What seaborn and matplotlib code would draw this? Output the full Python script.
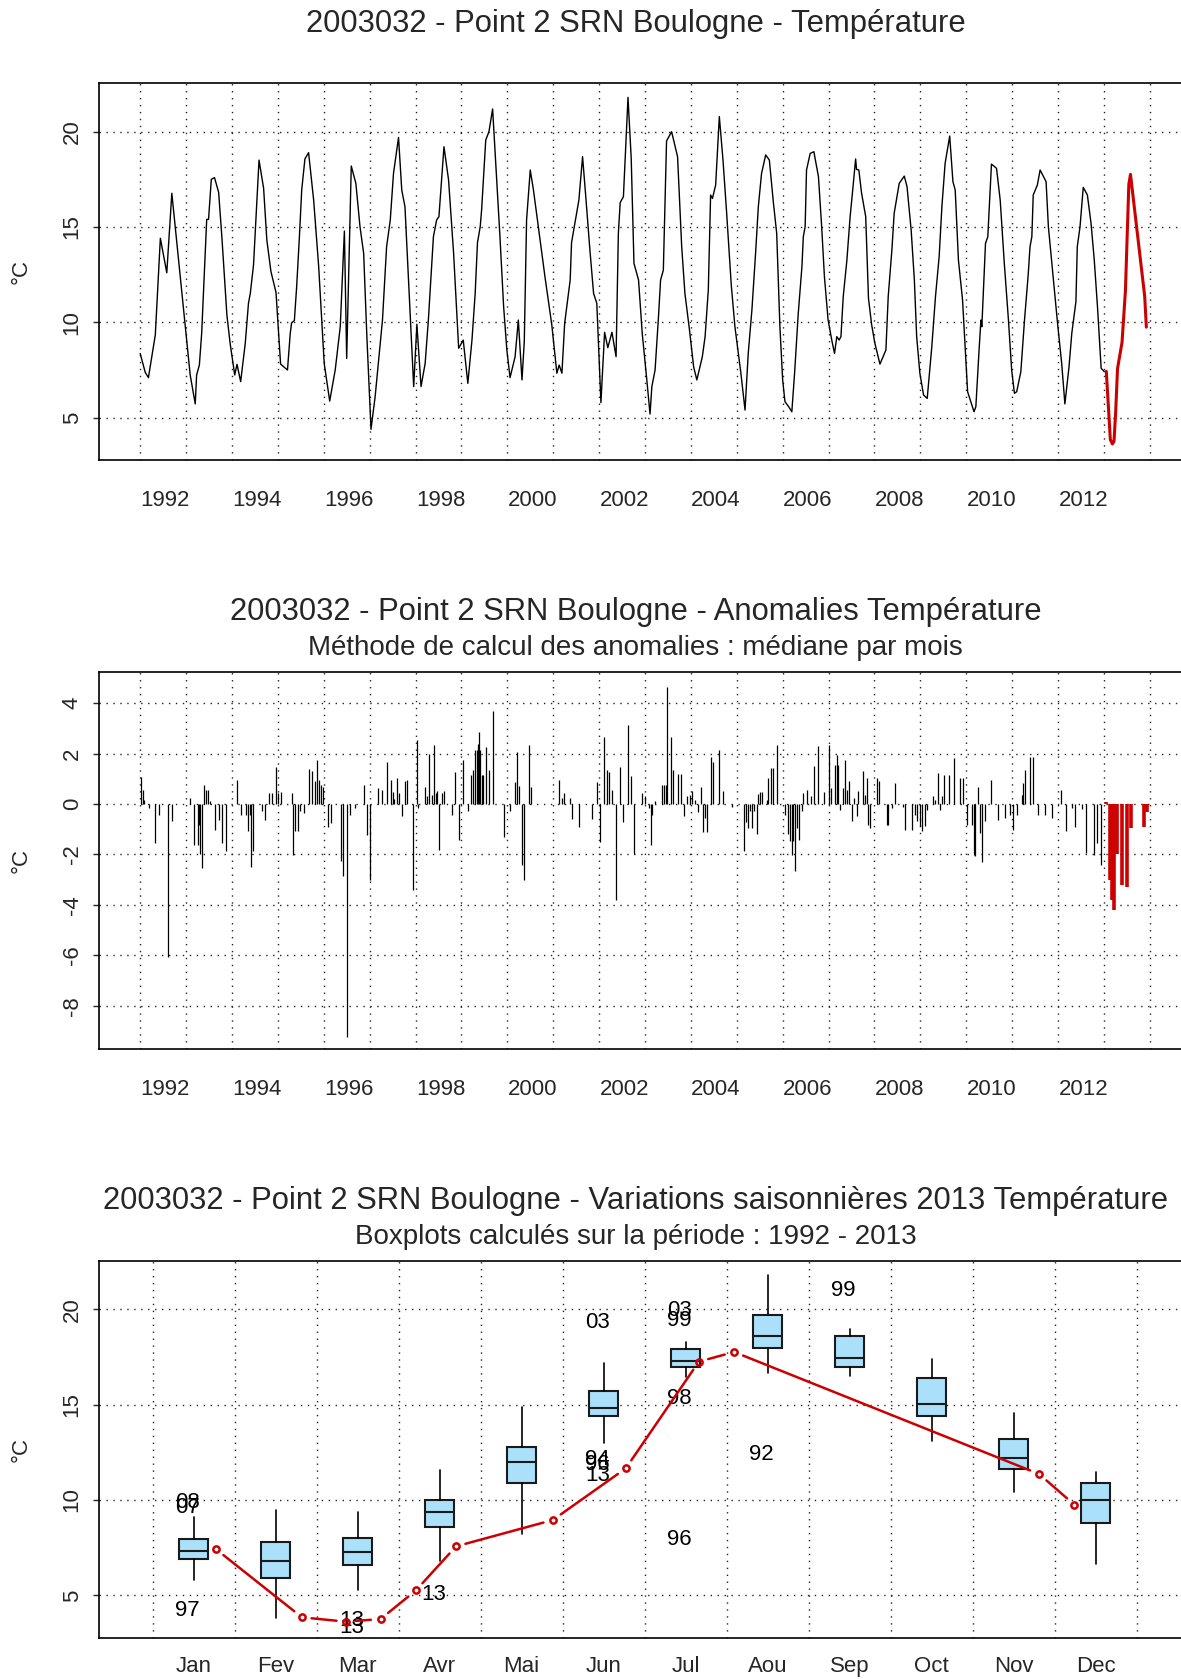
import matplotlib
matplotlib.use("Agg")
import matplotlib.pyplot as plt
import seaborn as sns

STATION = "2003032 - Point 2 SRN Boulogne"
RED = "#cc0000"
BOX_BLUE = "#aae0fa"

# monthly-ish surface temperature 1992-2012 (decimal year, degC)
temp_time = [
    1992.00, 1992.11, 1992.18, 1992.33, 1992.44, 1992.58, 1992.69, 1992.80, 1992.98,
    1993.09, 1993.20, 1993.23, 1993.29, 1993.34, 1993.45, 1993.49, 1993.55, 1993.62, 1993.71, 1993.78, 1993.89, 1993.96,
    1994.06, 1994.11, 1994.19, 1994.29, 1994.36, 1994.40, 1994.47, 1994.59, 1994.69, 1994.76, 1994.85, 1994.96,
    1995.01, 1995.06, 1995.21, 1995.27, 1995.30, 1995.36, 1995.41, 1995.47, 1995.52, 1995.59, 1995.67, 1995.78, 1995.89,
    1996.01, 1996.13, 1996.25, 1996.36, 1996.45, 1996.50, 1996.60, 1996.70, 1996.79, 1996.87, 1996.94,
    1997.03, 1997.12, 1997.19, 1997.28, 1997.37, 1997.45, 1997.52, 1997.63, 1997.70, 1997.77, 1997.88, 1997.96,
    1998.03, 1998.12, 1998.21, 1998.28, 1998.39, 1998.46, 1998.51, 1998.62, 1998.72, 1998.83, 1998.94,
    1999.04, 1999.14, 1999.23, 1999.30, 1999.35, 1999.41, 1999.44, 1999.53, 1999.60, 1999.68, 1999.77, 1999.84, 1999.92, 1999.99,
    2000.06, 2000.17, 2000.24, 2000.32, 2000.37, 2000.42, 2000.50, 2000.57, 2000.68, 2000.82, 2000.97,
    2001.08, 2001.13, 2001.19, 2001.25, 2001.37, 2001.40, 2001.46, 2001.56, 2001.64, 2001.71, 2001.80, 2001.88, 2001.95,
    2002.04, 2002.12, 2002.19, 2002.28, 2002.37, 2002.42, 2002.46, 2002.53, 2002.63, 2002.70, 2002.76, 2002.86, 2002.94,
    2003.04, 2003.11, 2003.15, 2003.22, 2003.29, 2003.34, 2003.40, 2003.47, 2003.58, 2003.71, 2003.80, 2003.87, 2003.97,
    2004.06, 2004.13, 2004.25, 2004.31, 2004.38, 2004.43, 2004.47, 2004.54, 2004.62, 2004.70, 2004.78, 2004.88, 2004.96,
    2005.09, 2005.18, 2005.25, 2005.33, 2005.41, 2005.47, 2005.54, 2005.63, 2005.71, 2005.80, 2005.87, 2005.94,
    2006.00, 2006.05, 2006.13, 2006.20, 2006.26, 2006.34, 2006.42, 2006.45, 2006.49, 2006.52, 2006.60, 2006.68, 2006.78, 2006.85, 2006.91, 2006.99,
    2007.07, 2007.13, 2007.18, 2007.23, 2007.27, 2007.32, 2007.40, 2007.47, 2007.52, 2007.59, 2007.61, 2007.66, 2007.72, 2007.81, 2007.87, 2007.94,
    2008.01, 2008.12, 2008.25, 2008.30, 2008.38, 2008.43, 2008.54, 2008.65, 2008.71, 2008.80, 2008.87, 2008.92, 2008.99,
    2009.07, 2009.15, 2009.25, 2009.33, 2009.41, 2009.47, 2009.54, 2009.64, 2009.71, 2009.76, 2009.83, 2009.92,
    2010.03, 2010.10, 2010.17, 2010.21, 2010.28, 2010.32, 2010.34, 2010.42, 2010.47, 2010.55, 2010.66, 2010.74, 2010.83, 2010.92, 2010.99,
    2011.05, 2011.10, 2011.19, 2011.27, 2011.35, 2011.39, 2011.43, 2011.46, 2011.55, 2011.61, 2011.74, 2011.79, 2011.90, 2011.99,
    2012.08, 2012.15, 2012.24, 2012.30, 2012.39, 2012.42, 2012.48, 2012.55, 2012.64, 2012.72, 2012.79, 2012.86, 2012.94, 2013.01,
]
temp_value = [
    8.37, 7.38, 7.10, 9.34, 14.41, 12.60, 16.77, 14.14, 9.86,
    7.24, 5.72, 7.24, 7.76, 9.42, 15.40, 15.40, 17.50, 17.59, 16.82, 14.49, 10.38, 8.90,
    7.24, 7.80, 6.89, 8.90, 11.00, 11.52, 13.01, 18.51, 17.03, 14.32, 12.66, 11.57,
    9.69, 7.81, 7.50, 9.42, 9.98, 10.09, 11.87, 14.49, 16.94, 18.57, 18.90, 16.42, 12.92,
    7.85, 5.87, 7.50, 9.77, 14.79, 8.11, 18.20, 17.29, 15.02, 13.62, 9.25,
    4.39, 6.10, 7.85, 10.12, 13.97, 15.37, 17.81, 19.70, 16.94, 16.07, 10.65, 6.63,
    9.90, 6.63, 7.85, 10.12, 14.49, 15.37, 15.54, 19.21, 17.47, 13.62, 8.64,
    9.07, 6.80, 9.07, 11.52, 14.18, 15.02, 15.89, 19.56, 20.00, 21.19, 17.47, 14.49, 10.82, 8.55,
    7.10, 8.20, 10.12, 6.98, 8.99, 15.37, 17.99, 16.94, 14.93, 12.40, 9.86,
    7.33, 7.76, 7.33, 9.95, 12.22, 14.18, 15.02, 16.42, 18.69, 16.59, 13.79, 11.52, 11.00,
    5.79, 9.48, 8.67, 9.48, 8.20, 14.67, 16.28, 16.59, 21.80, 18.60, 13.09, 12.22, 9.42,
    6.98, 5.19, 6.63, 7.50, 10.12, 12.22, 12.74, 19.51, 20.00, 18.69, 13.97, 11.52, 9.60,
    7.67, 6.98, 8.20, 9.25, 11.70, 16.68, 16.50, 17.20, 20.79, 18.51, 15.72, 11.96, 9.77,
    7.33, 5.40, 8.37, 10.65, 13.62, 16.07, 17.81, 18.78, 18.51, 16.24, 14.67, 9.77,
    6.98, 5.84, 5.58, 5.31, 7.33, 10.47, 12.92, 14.49, 15.02, 17.99, 18.86, 18.95, 17.64, 15.02, 12.40, 10.12,
    9.07, 8.37, 9.25, 9.07, 9.25, 11.35, 13.27, 15.54, 16.77, 18.57, 18.02, 17.99, 16.77, 15.54, 11.26, 9.86,
    8.90, 7.81, 8.55, 11.35, 13.79, 15.72, 17.29, 17.67, 17.12, 14.84, 12.22, 9.25, 7.33,
    6.19, 6.01, 8.72, 11.35, 13.44, 16.07, 18.34, 19.77, 17.38, 16.94, 13.27, 11.17,
    6.36, 5.84, 5.31, 5.58, 8.55, 10.12, 9.77, 14.14, 14.49, 18.30, 18.08, 16.42, 13.09, 10.12, 7.50,
    6.28, 6.36, 7.41, 10.12, 12.48, 13.97, 14.49, 16.68, 17.20, 17.99, 17.38, 15.02, 12.22, 9.95,
    7.85, 5.72, 7.67, 9.42, 11.08, 13.97, 15.02, 17.08, 16.68, 15.19, 13.27, 10.82, 7.59, 7.41,
]

# 2013 measurements: position in months (1 = Jan) and temperature
month_2013 = [1.27, 2.32, 2.86, 3.28, 3.71, 4.20, 5.38, 6.27, 7.16, 7.59, 11.31, 11.74]
temp_2013 = [7.43, 3.85, 3.62, 3.76, 5.26, 7.57, 8.95, 11.66, 17.25, 17.76, 11.36, 9.75]

# anomalies (difference to the monthly median), 1992-2012
anom_time = [
    1992.01, 1992.07, 1992.09, 1992.20, 1992.33, 1992.40, 1992.60, 1992.69,
    1993.09, 1993.18, 1993.25, 1993.29, 1993.31, 1993.34, 1993.39, 1993.43, 1993.47, 1993.53, 1993.63, 1993.72, 1993.78, 1993.87,
    1994.11, 1994.19, 1994.30, 1994.35, 1994.40, 1994.42, 1994.45, 1994.65, 1994.72, 1994.81, 1994.88, 1994.96,
    1995.01, 1995.07, 1995.30, 1995.34, 1995.38, 1995.43, 1995.49, 1995.56, 1995.67, 1995.74, 1995.80, 1995.85, 1995.89, 1995.94, 1995.99,
    1996.10, 1996.16, 1996.37, 1996.41, 1996.50, 1996.58, 1996.68, 1996.88, 1996.94,
    1997.01, 1997.18, 1997.27, 1997.38, 1997.47, 1997.50, 1997.53, 1997.59, 1997.63, 1997.70, 1997.77, 1997.82, 1997.95,
    1998.03, 1998.06, 1998.21, 1998.25, 1998.30, 1998.37, 1998.41, 1998.44, 1998.47, 1998.51, 1998.57, 1998.63, 1998.79, 1998.85, 1998.94,
    1999.04, 1999.15, 1999.20, 1999.26, 1999.30, 1999.33, 1999.36, 1999.39, 1999.41, 1999.44, 1999.48, 1999.53, 1999.60, 1999.68, 1999.92,
    2000.06, 2000.17, 2000.22, 2000.26, 2000.32, 2000.37, 2000.48, 2000.52,
    2001.13, 2001.19, 2001.24, 2001.37, 2001.40, 2001.56, 2001.85, 2001.95,
    2002.03, 2002.11, 2002.17, 2002.22, 2002.28, 2002.37, 2002.46, 2002.53, 2002.63, 2002.70, 2002.76, 2002.93, 2002.99,
    2003.08, 2003.13, 2003.16, 2003.21, 2003.38, 2003.42, 2003.45, 2003.49, 2003.57, 2003.62, 2003.71, 2003.79, 2003.86, 2003.92, 2003.98,
    2004.03, 2004.08, 2004.16, 2004.22, 2004.26, 2004.31, 2004.35, 2004.43, 2004.48, 2004.62, 2004.70, 2004.89,
    2005.15, 2005.20, 2005.24, 2005.29, 2005.33, 2005.38, 2005.44, 2005.47, 2005.51, 2005.54, 2005.65, 2005.69, 2005.75, 2005.80, 2005.87,
    2006.05, 2006.11, 2006.16, 2006.20, 2006.23, 2006.27, 2006.31, 2006.36, 2006.42, 2006.45, 2006.52, 2006.62, 2006.69, 2006.78, 2006.89,
    2007.01, 2007.05, 2007.13, 2007.18, 2007.21, 2007.25, 2007.32, 2007.36, 2007.40, 2007.45, 2007.52, 2007.56, 2007.61, 2007.65, 2007.76, 2007.80, 2007.83, 2007.87, 2007.90,
    2008.05, 2008.10, 2008.27, 2008.30, 2008.39, 2008.45, 2008.63, 2008.67, 2008.81, 2008.88, 2008.92, 2008.99,
    2009.04, 2009.10, 2009.14, 2009.28, 2009.33, 2009.39, 2009.43, 2009.47, 2009.52, 2009.63, 2009.74, 2009.87, 2009.94,
    2010.01, 2010.12, 2010.16, 2010.19, 2010.26, 2010.30, 2010.34, 2010.42, 2010.55, 2010.69, 2010.84, 2010.95,
    2011.03, 2011.10, 2011.21, 2011.24, 2011.28, 2011.38, 2011.46, 2011.57, 2011.72, 2011.86,
    2012.07, 2012.17, 2012.30, 2012.37, 2012.52, 2012.62, 2012.79, 2012.84, 2012.94,
]
anom_value = [
    1.06, 0.57, 0.17, -0.16, -1.55, -0.42, -6.08, -0.66,
    0.24, -1.61, -1.61, -0.82, -2.00, -2.54, 0.77, 0.57, 0.57, 0.13, -1.02, -0.62, -1.55, -1.85,
    0.97, -0.42, -0.42, -1.08, -0.42, -2.51, -1.85, -0.29, -0.65, 0.44, 0.44, 1.46,
    0.44, 0.48, 0.44, -2.04, -1.08, -1.08, -0.29, -0.37, 1.40, 1.32, 0.90, 1.76, 0.97, 0.74, 0.66,
    -0.93, -0.75, -2.24, -2.87, -9.22, -0.42, -0.16, 0.77, -1.22,
    -3.00, 0.63, 0.57, 1.65, 0.97, 0.48, 0.21, 1.03, 0.44, -0.49, 0.90, 0.97, -3.40,
    2.55, -0.16, 0.66, 0.30, 1.98, 0.37, 2.35, 0.44, 0.50, -1.81, 0.44, 0.53, -0.42, 1.27, -1.42,
    1.76, -0.29, 1.16, 1.36, 2.16, 2.16, 2.38, 2.86, 2.16, 1.16, 1.16, 2.26, 1.36, 3.70, -1.32,
    -0.29, 0.87, 2.05, 0.70, -2.43, -3.00, 2.35, 0.66,
    0.97, 0.24, 0.44, 0.24, -0.60, -0.90, -0.60, 0.86,
    -1.51, 2.66, 1.36, 1.27, 0.57, -3.82, 1.46, -0.71, 3.15, 1.10, -1.97, 0.44, 0.30,
    -0.16, -1.64, -0.42, 0.13, 0.77, 0.77, 0.77, 4.64, 2.66, 1.36, 1.20, 1.20, -0.49, 0.30, 0.37,
    0.53, 0.17, -0.32, 0.66, -1.11, -0.55, -1.11, 1.87, 1.67, 2.16, 0.53, -0.13,
    -1.88, -0.71, -0.95, -0.29, -0.95, -0.29, -1.18, 0.40, 0.48, 0.48, 0.17, 1.03, 1.43, 1.43, 2.35,
    -0.42, -1.18, -1.48, -2.01, -1.48, -2.65, -0.95, -1.42, -0.29, 0.44, 0.57, 0.30, 1.49, 2.31, 0.48,
    2.35, 0.63, 1.56, 1.96, 1.56, -0.22, 0.63, 1.76, 0.57, 0.90, -0.69, 0.24, -0.49, 0.50, 1.30, 0.37, 1.03, -0.82, -0.95,
    1.03, 0.90, -0.82, -0.82, -0.16, 0.83, -0.13, -1.02, -1.02, -0.42, -0.69, -0.89,
    -1.08, -0.89, -0.22, 0.30, 0.17, 1.23, -0.22, 0.30, 1.16, 1.16, 1.83, 1.03, 1.03,
    -0.82, -0.82, -2.01, -2.08, 0.67, -1.15, -2.28, -0.69, 0.97, -0.62, -0.56, -0.42,
    -1.02, -0.42, 0.37, 0.83, 1.36, 1.85, 1.85, -0.42, -0.42, -0.56,
    0.57, -1.08, -0.16, -0.93, -0.20, -1.94, -2.01, -1.55, -2.41,
]
anom_time_2013 = [2013.05, 2013.13, 2013.18, 2013.23, 2013.28, 2013.39, 2013.50, 2013.59, 2013.88, 2013.93]
anom_value_2013 = [0.08, -3.00, -3.80, -4.20, -2.00, -3.20, -3.30, -0.95, -0.93, -0.30]

# seasonal boxplots 1992-2013
month_labels = ["Jan", "Fev", "Mar", "Avr", "Mai", "Jun", "Jul", "Aou", "Sep", "Oct", "Nov", "Dec"]
box_whislo = [5.80, 3.79, 5.28, 6.82, 8.22, 13.00, 16.43, 16.68, 16.50, 13.11, 10.40, 6.62]
box_q1 = [6.89, 5.89, 6.59, 8.60, 10.91, 14.40, 16.99, 17.99, 16.99, 14.40, 11.61, 8.81]
box_med = [7.32, 6.80, 7.29, 9.39, 12.01, 14.81, 17.31, 18.60, 17.43, 15.03, 12.18, 10.00]
box_q3 = [7.98, 7.80, 8.00, 10.00, 12.80, 15.70, 17.90, 19.70, 18.60, 16.41, 13.20, 10.90]
box_whishi = [9.12, 9.47, 9.35, 11.57, 14.89, 17.16, 18.27, 21.80, 18.97, 17.38, 14.58, 11.48]

# outliers labelled with their year
outlier_month = [1, 1, 1, 3, 3, 4, 6, 6, 6, 6, 7, 7, 7, 7, 8, 9]
outlier_value = [9.85, 9.60, 4.23, 3.67, 3.32, 5.02, 19.30, 12.13, 11.87, 11.31, 19.91, 19.40, 15.33, 7.94, 12.41, 20.98]
outlier_label = ["08", "07", "97", "13", "13", "13", "03", "94", "96", "13", "03", "99", "98", "96", "92", "99"]

year_labels = list(range(1992, 2013, 2))

sns.set_style("white")
plt.rcParams["font.family"] = ["Liberation Sans", "DejaVu Sans"]

GRID = dict(color="#222222", linestyle=(0, (1, 4)), linewidth=1.0)


def frame(ax, ylim, yticks):
    ax.set_ylim(*ylim)
    ax.set_yticks(yticks)
    ax.set_yticklabels([str(v) for v in yticks])
    ax.tick_params(axis="y", which="major", length=4, width=1, pad=8,
                   labelsize=16, labelrotation=90, left=True)
    for lab in ax.get_yticklabels():
        lab.set_verticalalignment("center")
    ax.grid(True, which="major", axis="y", **GRID)
    ax.grid(True, which="minor", axis="x", **GRID)
    ax.spines["right"].set_visible(False)
    for side in ["left", "top", "bottom"]:
        ax.spines[side].set_linewidth(1.2)
        ax.spines[side].set_color("black")
    ax.set_xlabel("")
    ax.set_ylabel("")


def year_axis(ax):
    ax.set_xlim(1991.11, 2014.68)
    ax.set_xticks([y + 0.55 for y in year_labels])
    ax.set_xticklabels([str(y) for y in year_labels])
    ax.set_xticks(range(1992, 2015), minor=True)
    ax.tick_params(axis="x", which="both", length=0, pad=21, labelsize=16)


fig = plt.figure(figsize=(11.81, 16.79), dpi=100)
ax1 = fig.add_axes([0.0841, 0.7258, 0.9159, 0.2245])
ax2 = fig.add_axes([0.0841, 0.3750, 0.9159, 0.2245])
ax3 = fig.add_axes([0.0841, 0.0247, 0.9159, 0.2245])

# panel 1 : temperature series
sns.lineplot(x=temp_time, y=temp_value, ax=ax1, color="black", lw=1.0,
             sort=False, estimator=None)
t2013 = [2013.03 + (m - 1) / 12 for m in month_2013]
sns.lineplot(x=t2013, y=temp_2013, ax=ax1, color=RED, lw=2.2,
             sort=False, estimator=None)
year_axis(ax1)
frame(ax1, (2.76, 22.53), [5, 10, 15, 20])

# panel 2 : anomalies
ax2.vlines(anom_time, 0, anom_value, color="black", lw=0.9)
ax2.vlines(anom_time_2013, 0, anom_value_2013, color=RED, lw=2.6)
year_axis(ax2)
frame(ax2, (-9.73, 5.22), [-8, -6, -4, -2, 0, 2, 4])

# panel 3 : seasonal boxplots + 2013
stats = []
for i in range(12):
    stats.append(dict(med=box_med[i], q1=box_q1[i], q3=box_q3[i],
                      whislo=box_whislo[i], whishi=box_whishi[i], fliers=[]))
ax3.bxp(stats, positions=list(range(1, 13)), widths=0.35, patch_artist=True,
        showfliers=False, showcaps=False,
        boxprops=dict(facecolor=BOX_BLUE, edgecolor="#1a1a1a", linewidth=1.5),
        medianprops=dict(color="#1a1a1a", linewidth=1.5),
        whiskerprops=dict(color="black", linewidth=1.2))
for m, v, lab in zip(outlier_month, outlier_value, outlier_label):
    ax3.text(m - 0.075, v, lab, ha="center", va="center", fontsize=16, color="black")

# line with gaps around the points (like R type="b")
for i in range(len(month_2013) - 1):
    ax3.annotate("", xy=(month_2013[i + 1], temp_2013[i + 1]),
                 xytext=(month_2013[i], temp_2013[i]),
                 arrowprops=dict(arrowstyle="-", color=RED, lw=1.8,
                                 shrinkA=7, shrinkB=7), zorder=4)
ax3.plot(month_2013, temp_2013, "o", mfc="none", mec=RED, mew=1.8, ms=4.5, zorder=5)

ax3.set_xlim(-0.15, 13.04)
ax3.set_xticks(range(1, 13))
ax3.set_xticklabels(month_labels)
ax3.set_xticks([k + 0.5 for k in range(0, 13)], minor=True)
ax3.tick_params(axis="x", which="both", length=0, pad=13, labelsize=16)
frame(ax3, (2.79, 22.55), [5, 10, 15, 20])

# titles
fig.text(0.538, 0.9858, STATION + " - Température", ha="center", va="center", fontsize=22.3)
fig.text(0.538, 0.6355, STATION + " - Anomalies Température", ha="center", va="center", fontsize=22.3)
fig.text(0.538, 0.6138, "Méthode de calcul des anomalies : médiane par mois",
         ha="center", va="center", fontsize=20)
fig.text(0.538, 0.2847, STATION + " - Variations saisonnières 2013 Température",
         ha="center", va="center", fontsize=22.3)
fig.text(0.538, 0.2633, "Boxplots calculés sur la période : 1992 - 2013",
         ha="center", va="center", fontsize=20)

for ax in (ax1, ax2, ax3):
    pos = ax.get_position()
    fig.text(0.018, pos.y0 + pos.height / 2, "°C", rotation=90,
             ha="center", va="center", fontsize=16)

fig.savefig("out.png", dpi=100)
